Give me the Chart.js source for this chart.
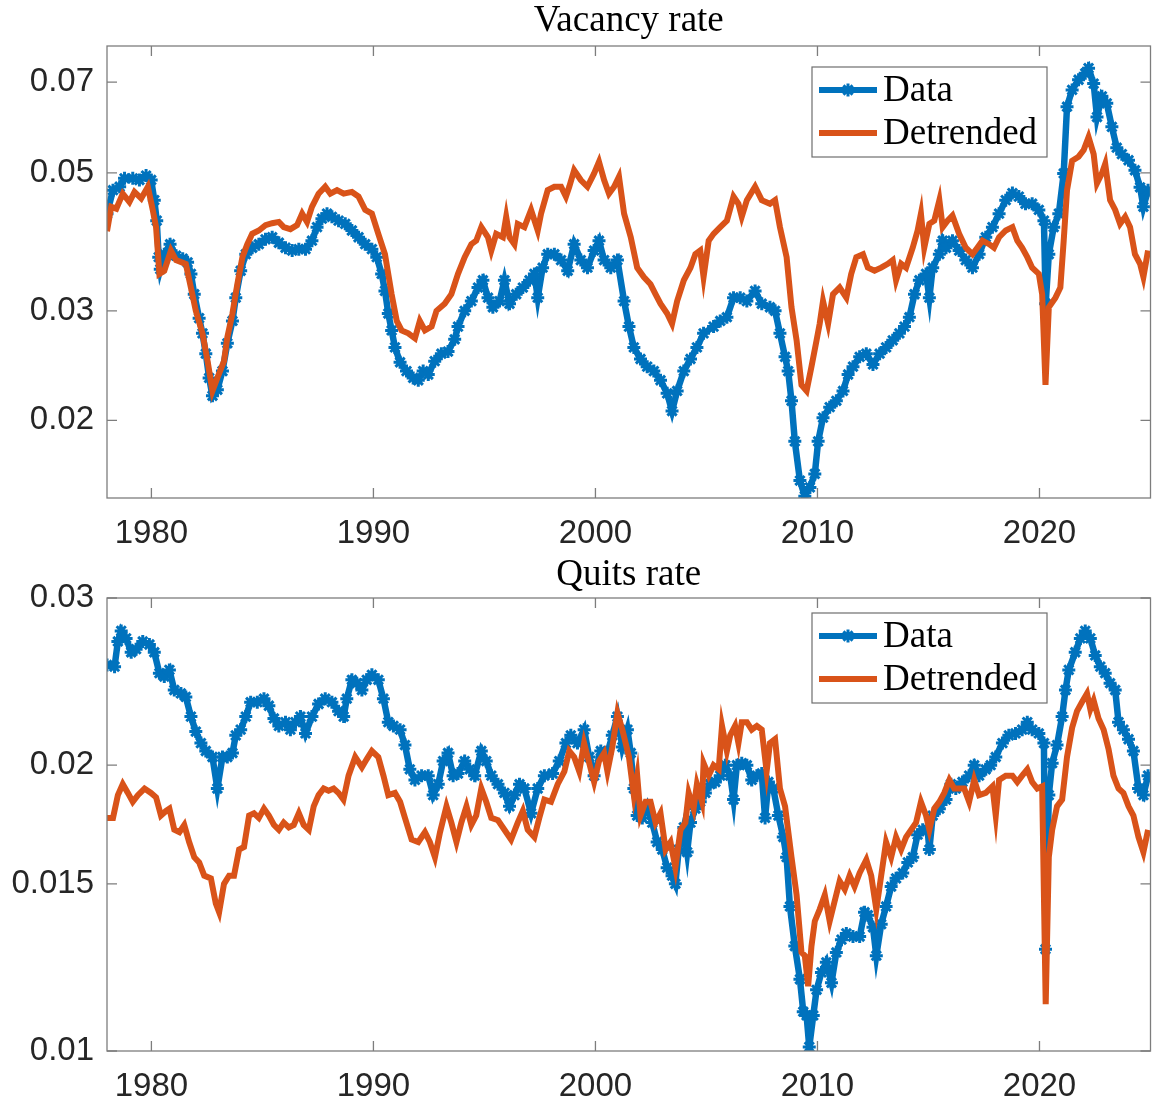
<!DOCTYPE html>
<html>
<head>
<meta charset="utf-8">
<script src="https://cdn.jsdelivr.net/npm/chart.js@4.4.1/dist/chart.umd.min.js"></script>
<style>
html, body { margin: 0; padding: 0; background: #fff; overflow: hidden; }
canvas { position: absolute; left: 0; }
</style>
</head>
<body>
<canvas id="vacChart" width="1160" height="552" style="top:0"></canvas>
<canvas id="quitChart" width="1160" height="552" style="top:552px"></canvas>
<script>
// ---- vacancy rate, raw series ----
const vacDataYears = [
1978.00,1978.27,1978.57,1978.79,1979.16,1979.46,1979.76,1979.99,1980.13,1980.24,
1980.33,1980.40,1980.58,1980.84,1981.11,1981.41,1981.63,1981.78,1981.93,1982.15,
1982.30,1982.45,1982.60,1982.75,1982.97,1983.20,1983.42,1983.65,1983.80,1984.02,
1984.25,1984.54,1984.84,1985.14,1985.44,1985.74,1986.04,1986.34,1986.64,1986.94,
1987.23,1987.46,1987.68,1987.91,1988.13,1988.43,1988.73,1989.03,1989.33,1989.63,
1989.93,1990.15,1990.37,1990.52,1990.67,1990.82,1990.97,1991.20,1991.49,1991.79,
1992.02,1992.24,1992.47,1992.76,1993.06,1993.36,1993.66,1993.81,1994.11,1994.41,
1994.71,1994.93,1995.16,1995.38,1995.68,1995.90,1996.13,1996.43,1996.73,1997.03,
1997.25,1997.40,1997.62,1997.85,1998.15,1998.45,1998.75,1999.04,1999.34,1999.64,
1999.94,2000.16,2000.39,2000.69,2000.99,2001.29,2001.51,2001.73,2002.03,2002.33,
2002.63,2002.93,2003.23,2003.45,2003.68,2003.98,2004.28,2004.57,2004.87,2005.32,
2005.62,2005.92,2006.22,2006.52,2006.82,2007.19,2007.49,2007.86,2008.09,2008.31,
2008.54,2008.68,2008.83,2008.98,2009.21,2009.43,2009.66,2009.88,2010.03,2010.25,
2010.55,2010.85,2011.15,2011.38,2011.60,2011.90,2012.20,2012.50,2012.80,2013.09,
2013.39,2013.69,2013.92,2014.14,2014.37,2014.59,2014.89,2015.04,2015.19,2015.49,
2015.64,2015.79,2016.08,2016.38,2016.68,2016.98,2017.28,2017.58,2017.88,2018.18,
2018.48,2018.78,2019.07,2019.37,2019.67,2019.97,2020.20,2020.28,2020.42,2020.64,
2020.87,2021.09,2021.24,2021.47,2021.76,2022.06,2022.21,2022.44,2022.59,2022.81,
2023.03,2023.26,2023.48,2023.71,2024.01,2024.30,2024.53,2024.68,2024.89];
const vacDataRate = [
0.0430,0.0469,0.0475,0.0490,0.0490,0.0487,0.0495,0.0487,0.0452,0.0419,
0.0366,0.0350,0.0370,0.0384,0.0368,0.0364,0.0359,0.0344,0.0319,0.0292,
0.0276,0.0256,0.0234,0.0219,0.0224,0.0240,0.0266,0.0289,0.0315,0.0348,
0.0370,0.0379,0.0384,0.0391,0.0394,0.0386,0.0379,0.0375,0.0377,0.0377,
0.0389,0.0409,0.0422,0.0430,0.0425,0.0419,0.0414,0.0404,0.0394,0.0384,
0.0377,0.0366,0.0344,0.0323,0.0297,0.0279,0.0262,0.0248,0.0240,0.0234,
0.0232,0.0240,0.0237,0.0249,0.0256,0.0258,0.0270,0.0283,0.0300,0.0311,
0.0327,0.0336,0.0315,0.0304,0.0311,0.0336,0.0308,0.0319,0.0327,0.0336,
0.0344,0.0315,0.0352,0.0370,0.0370,0.0362,0.0348,0.0384,0.0362,0.0352,
0.0375,0.0389,0.0362,0.0352,0.0362,0.0311,0.0283,0.0262,0.0251,0.0244,
0.0240,0.0232,0.0221,0.0207,0.0223,0.0240,0.0251,0.0262,0.0276,0.0283,
0.0289,0.0293,0.0315,0.0315,0.0311,0.0323,0.0308,0.0304,0.0300,0.0276,
0.0253,0.0240,0.0215,0.0185,0.0160,0.0151,0.0156,0.0164,0.0185,0.0202,
0.0210,0.0215,0.0223,0.0237,0.0244,0.0253,0.0256,0.0246,0.0256,0.0262,
0.0269,0.0276,0.0283,0.0293,0.0319,0.0336,0.0344,0.0315,0.0352,0.0370,
0.0389,0.0379,0.0389,0.0375,0.0362,0.0352,0.0370,0.0394,0.0409,0.0430,
0.0452,0.0464,0.0458,0.0446,0.0446,0.0436,0.0419,0.0308,0.0370,0.0409,
0.0430,0.0499,0.0639,0.0680,0.0706,0.0723,0.0737,0.0696,0.0615,0.0664,
0.0647,0.0593,0.0549,0.0536,0.0524,0.0505,0.0474,0.0441,0.0469];

// ---- vacancy rate, detrended ----
const vacTrendYears = [
1978.00,1978.19,1978.42,1978.71,1979.01,1979.24,1979.54,1979.84,1980.06,1980.21,
1980.36,1980.58,1980.88,1981.11,1981.55,1981.78,1982.00,1982.30,1982.53,1982.75,
1982.97,1983.27,1983.42,1983.65,1983.87,1984.10,1984.32,1984.54,1984.84,1985.14,
1985.44,1985.74,1985.96,1986.26,1986.56,1986.79,1987.01,1987.23,1987.53,1987.83,
1988.06,1988.36,1988.66,1989.03,1989.33,1989.63,1989.93,1990.22,1990.52,1990.82,
1991.05,1991.27,1991.57,1991.87,1992.09,1992.32,1992.62,1992.84,1993.21,1993.51,
1993.81,1994.11,1994.41,1994.63,1994.86,1995.16,1995.31,1995.53,1995.83,1995.98,
1996.13,1996.35,1996.50,1996.80,1997.10,1997.40,1997.55,1997.85,1998.15,1998.45,
1998.67,1998.82,1999.04,1999.34,1999.64,1999.94,2000.16,2000.39,2000.61,2000.84,
2001.06,2001.29,2001.59,2001.88,2002.18,2002.48,2002.71,2002.93,2003.23,2003.45,
2003.68,2003.98,2004.28,2004.50,2004.72,2004.87,2005.10,2005.32,2005.62,2005.92,
2006.22,2006.44,2006.59,2006.82,2007.19,2007.49,2007.86,2008.09,2008.31,2008.61,
2008.83,2009.06,2009.28,2009.51,2009.73,2009.96,2010.10,2010.25,2010.48,2010.70,
2011.00,2011.30,2011.52,2011.75,2012.05,2012.27,2012.57,2012.87,2013.17,2013.39,
2013.54,2013.77,2013.99,2014.29,2014.51,2014.66,2014.81,2015.04,2015.26,2015.49,
2015.64,2015.86,2016.08,2016.38,2016.68,2016.98,2017.20,2017.43,2017.73,2017.95,
2018.18,2018.48,2018.78,2019.00,2019.22,2019.45,2019.67,2019.97,2020.12,2020.27,
2020.42,2020.72,2020.94,2021.09,2021.24,2021.47,2021.76,2021.99,2022.21,2022.44,
2022.59,2022.81,2022.96,2023.18,2023.41,2023.63,2023.86,2024.08,2024.30,2024.53,
2024.68,2024.89];
const vacTrendRate = [
0.0403,0.0441,0.0438,0.0463,0.0449,0.0466,0.0455,0.0475,0.0436,0.0409,
0.0344,0.0348,0.0375,0.0362,0.0357,0.0327,0.0300,0.0276,0.0249,0.0223,
0.0234,0.0249,0.0272,0.0297,0.0331,0.0366,0.0384,0.0399,0.0404,0.0412,
0.0415,0.0417,0.0409,0.0406,0.0412,0.0430,0.0417,0.0441,0.0463,0.0475,
0.0463,0.0469,0.0463,0.0466,0.0458,0.0436,0.0430,0.0399,0.0370,0.0319,
0.0289,0.0279,0.0276,0.0271,0.0289,0.0279,0.0283,0.0300,0.0308,0.0319,
0.0344,0.0366,0.0384,0.0389,0.0409,0.0394,0.0375,0.0399,0.0394,0.0425,
0.0394,0.0384,0.0414,0.0409,0.0436,0.0404,0.0430,0.0469,0.0475,0.0475,
0.0458,0.0475,0.0505,0.0487,0.0475,0.0499,0.0521,0.0487,0.0463,0.0475,
0.0493,0.0430,0.0394,0.0352,0.0340,0.0331,0.0319,0.0308,0.0297,0.0286,
0.0311,0.0336,0.0352,0.0370,0.0375,0.0340,0.0389,0.0399,0.0409,0.0419,
0.0458,0.0446,0.0425,0.0452,0.0475,0.0452,0.0446,0.0452,0.0409,0.0366,
0.0304,0.0269,0.0228,0.0223,0.0244,0.0269,0.0286,0.0311,0.0286,0.0319,
0.0327,0.0315,0.0344,0.0366,0.0370,0.0352,0.0348,0.0352,0.0357,0.0362,
0.0336,0.0357,0.0352,0.0379,0.0404,0.0430,0.0379,0.0414,0.0419,0.0452,
0.0409,0.0419,0.0427,0.0399,0.0379,0.0370,0.0379,0.0389,0.0384,0.0379,
0.0394,0.0404,0.0409,0.0389,0.0379,0.0366,0.0352,0.0344,0.0319,0.0228,
0.0304,0.0315,0.0327,0.0389,0.0469,0.0523,0.0531,0.0544,0.0571,0.0536,
0.0481,0.0499,0.0517,0.0452,0.0436,0.0414,0.0425,0.0409,0.0370,0.0357,
0.0340,0.0375];

// ---- quits rate, raw series ----
const quitDataYears = [
1978.00,1978.34,1978.49,1978.64,1978.86,1979.09,1979.31,1979.61,1979.91,1980.13,
1980.36,1980.58,1980.81,1981.03,1981.33,1981.55,1981.78,1982.00,1982.23,1982.45,
1982.75,1982.97,1983.20,1983.42,1983.65,1983.80,1984.02,1984.25,1984.47,1984.77,
1985.07,1985.29,1985.52,1985.74,1986.04,1986.26,1986.49,1986.71,1986.94,1987.23,
1987.53,1987.83,1988.13,1988.43,1988.66,1988.80,1989.03,1989.25,1989.48,1989.70,
1989.93,1990.22,1990.45,1990.67,1990.90,1991.20,1991.42,1991.64,1991.87,1992.17,
1992.47,1992.69,1992.92,1993.14,1993.36,1993.59,1993.81,1994.11,1994.34,1994.56,
1994.86,1995.08,1995.31,1995.61,1995.90,1996.13,1996.35,1996.58,1996.80,1997.10,
1997.40,1997.70,1998.07,1998.37,1998.67,1998.89,1999.19,1999.49,1999.72,1999.94,
2000.24,2000.54,2000.76,2000.99,2001.21,2001.44,2001.59,2001.73,2001.88,2002.11,
2002.33,2002.56,2002.78,2003.01,2003.23,2003.45,2003.60,2003.75,2003.98,2004.13,
2004.28,2004.50,2004.72,2004.95,2005.17,2005.40,2005.62,2005.85,2006.07,2006.22,
2006.37,2006.59,2006.82,2007.04,2007.27,2007.49,2007.64,2007.79,2008.01,2008.24,
2008.46,2008.61,2008.76,2008.98,2009.21,2009.36,2009.51,2009.63,2009.81,2009.96,
2010.18,2010.40,2010.63,2010.85,2011.08,2011.30,2011.60,2011.90,2012.12,2012.27,
2012.50,2012.65,2012.87,2013.09,2013.32,2013.54,2013.84,2014.07,2014.29,2014.51,
2014.74,2014.96,2015.04,2015.19,2015.49,2015.79,2016.01,2016.23,2016.53,2016.83,
2017.06,2017.28,2017.58,2017.80,2018.03,2018.33,2018.62,2018.92,2019.22,2019.45,
2019.67,2019.97,2020.20,2020.27,2020.42,2020.57,2020.79,2021.02,2021.17,2021.32,
2021.61,2021.84,2022.06,2022.29,2022.51,2022.74,2022.96,2023.18,2023.41,2023.56,
2023.78,2024.01,2024.23,2024.46,2024.68,2024.89];
const quitDataRate = [
0.0255,0.0254,0.0270,0.0277,0.0272,0.0263,0.0265,0.0270,0.0268,0.0263,
0.0250,0.0248,0.0252,0.0240,0.0238,0.0236,0.0225,0.0217,0.0211,0.0207,
0.0204,0.0189,0.0204,0.0204,0.0206,0.0215,0.0218,0.0225,0.0233,0.0233,
0.0235,0.0231,0.0224,0.0220,0.0222,0.0218,0.0222,0.0225,0.0216,0.0225,
0.0232,0.0235,0.0233,0.0228,0.0225,0.0235,0.0246,0.0244,0.0240,0.0246,
0.0249,0.0246,0.0235,0.0222,0.0220,0.0218,0.0210,0.0198,0.0193,0.0195,
0.0195,0.0186,0.0191,0.0202,0.0206,0.0195,0.0196,0.0202,0.0198,0.0195,
0.0207,0.0202,0.0195,0.0191,0.0187,0.0181,0.0186,0.0191,0.0189,0.0178,
0.0189,0.0195,0.0196,0.0202,0.0211,0.0215,0.0211,0.0218,0.0204,0.0195,
0.0207,0.0206,0.0215,0.0225,0.0209,0.0218,0.0206,0.0189,0.0177,0.0176,
0.0181,0.0174,0.0166,0.0163,0.0156,0.0153,0.0150,0.0163,0.0172,0.0162,
0.0174,0.0180,0.0183,0.0187,0.0191,0.0192,0.0195,0.0200,0.0195,0.0184,
0.0200,0.0201,0.0200,0.0193,0.0195,0.0196,0.0176,0.0192,0.0189,0.0177,
0.0168,0.0160,0.0142,0.0129,0.0119,0.0110,0.0109,0.0101,0.0109,0.0116,
0.0121,0.0124,0.0118,0.0127,0.0131,0.0133,0.0132,0.0132,0.0140,0.0139,
0.0135,0.0126,0.0136,0.0142,0.0149,0.0152,0.0154,0.0158,0.0160,0.0169,
0.0171,0.0171,0.0163,0.0177,0.0180,0.0184,0.0191,0.0189,0.0192,0.0195,
0.0200,0.0195,0.0198,0.0200,0.0204,0.0211,0.0215,0.0216,0.0218,0.0222,
0.0218,0.0216,0.0211,0.0128,0.0186,0.0201,0.0210,0.0225,0.0240,0.0252,
0.0263,0.0272,0.0277,0.0272,0.0261,0.0254,0.0250,0.0244,0.0240,0.0222,
0.0218,0.0213,0.0207,0.0189,0.0186,0.0195];

// ---- quits rate, detrended ----
const quitTrendYears = [
1978.00,1978.27,1978.49,1978.71,1978.94,1979.16,1979.39,1979.69,1979.98,1980.21,
1980.43,1980.66,1980.81,1981.03,1981.26,1981.48,1981.70,1981.93,1982.15,1982.38,
1982.68,1982.90,1983.05,1983.27,1983.50,1983.72,1983.95,1984.17,1984.40,1984.62,
1984.84,1985.07,1985.29,1985.52,1985.74,1985.96,1986.19,1986.41,1986.64,1986.86,
1987.09,1987.31,1987.53,1987.76,1987.98,1988.21,1988.43,1988.65,1988.88,1989.18,
1989.48,1989.70,1989.93,1990.22,1990.45,1990.67,1990.97,1991.20,1991.42,1991.72,
1992.02,1992.32,1992.54,1992.77,1993.00,1993.29,1993.51,1993.74,1993.96,1994.19,
1994.41,1994.63,1994.86,1995.08,1995.31,1995.61,1995.90,1996.20,1996.50,1996.73,
1996.95,1997.25,1997.47,1997.70,1998.00,1998.30,1998.60,1998.82,1999.04,1999.27,
1999.49,1999.72,1999.94,2000.16,2000.39,2000.54,2000.76,2000.99,2001.21,2001.36,
2001.51,2001.73,2001.88,2002.03,2002.26,2002.48,2002.71,2002.93,2003.16,2003.38,
2003.60,2003.83,2004.05,2004.20,2004.42,2004.57,2004.80,2004.87,2005.10,2005.32,
2005.55,2005.70,2005.92,2006.07,2006.29,2006.44,2006.59,2006.82,2007.04,2007.27,
2007.49,2007.71,2007.86,2008.09,2008.31,2008.54,2008.83,2009.06,2009.28,2009.43,
2009.58,2009.73,2009.88,2010.10,2010.33,2010.55,2010.78,2011.00,2011.23,2011.45,
2011.67,2011.90,2012.20,2012.42,2012.65,2012.87,2013.09,2013.32,2013.54,2013.77,
2013.99,2014.22,2014.44,2014.66,2014.89,2015.04,2015.26,2015.49,2015.71,2015.94,
2016.16,2016.38,2016.61,2016.83,2017.06,2017.28,2017.58,2017.88,2018.03,2018.18,
2018.48,2018.78,2019.00,2019.22,2019.45,2019.67,2019.90,2020.12,2020.28,2020.42,
2020.57,2020.79,2021.02,2021.24,2021.47,2021.69,2021.91,2022.14,2022.29,2022.44,
2022.66,2022.89,2023.11,2023.33,2023.56,2023.78,2024.01,2024.23,2024.46,2024.68,
2024.89];
const quitTrendRate = [
0.0176,0.0176,0.0186,0.0191,0.0187,0.0183,0.0186,0.0189,0.0187,0.0185,
0.0177,0.0179,0.0180,0.0171,0.0170,0.0173,0.0166,0.0160,0.0158,0.0153,
0.0152,0.0143,0.0140,0.0150,0.0153,0.0153,0.0163,0.0164,0.0177,0.0178,
0.0176,0.0180,0.0177,0.0173,0.0171,0.0174,0.0172,0.0173,0.0178,0.0173,
0.0171,0.0181,0.0186,0.0189,0.0188,0.0189,0.0187,0.0184,0.0195,0.0204,
0.0199,0.0203,0.0207,0.0204,0.0195,0.0186,0.0187,0.0183,0.0176,0.0167,
0.0166,0.0170,0.0166,0.0160,0.0170,0.0181,0.0174,0.0166,0.0174,0.0181,
0.0173,0.0177,0.0189,0.0183,0.0176,0.0175,0.0171,0.0167,0.0174,0.0179,
0.0171,0.0168,0.0176,0.0184,0.0183,0.0191,0.0197,0.0207,0.0204,0.0197,
0.0211,0.0201,0.0192,0.0202,0.0206,0.0197,0.0209,0.0227,0.0218,0.0211,
0.0204,0.0186,0.0195,0.0177,0.0183,0.0183,0.0174,0.0178,0.0163,0.0166,
0.0156,0.0171,0.0174,0.0187,0.0180,0.0191,0.0183,0.0201,0.0195,0.0200,
0.0198,0.0220,0.0207,0.0215,0.0220,0.0211,0.0222,0.0222,0.0218,0.0220,
0.0218,0.0197,0.0211,0.0213,0.0189,0.0181,0.0160,0.0146,0.0127,0.0126,
0.0117,0.0129,0.0137,0.0141,0.0146,0.0137,0.0144,0.0151,0.0148,0.0153,
0.0149,0.0154,0.0159,0.0153,0.0141,0.0153,0.0166,0.0160,0.0168,0.0163,
0.0168,0.0171,0.0174,0.0183,0.0177,0.0171,0.0180,0.0183,0.0187,0.0193,
0.0189,0.0189,0.0189,0.0183,0.0193,0.0186,0.0187,0.0190,0.0177,0.0193,
0.0195,0.0195,0.0192,0.0195,0.0198,0.0192,0.0189,0.0190,0.0112,0.0160,
0.0171,0.0181,0.0184,0.0204,0.0219,0.0228,0.0233,0.0238,0.0229,0.0234,
0.0224,0.0218,0.0208,0.0195,0.0189,0.0187,0.0181,0.0177,0.0168,0.0162,
0.0171];

// axis ticks
const yearTicks = [1980, 1990, 2000, 2010, 2020];
const vacTicks = [0.02, 0.03, 0.05, 0.07];
const quitTicks = [0.01, 0.015, 0.02, 0.03];

const BLUE = "#0072BD";
const ORANGE = "#D95319";
const FRAME = "#7d7d7d";
const TEXT = "#262626";

const toPoints = (xs, ys) => xs.map((x, i) => ({ x: x, y: ys[i] }));

// box with inward ticks on all four sides
const axesFrame = {
  id: "axesFrame",
  afterDatasetsDraw(chart) {
    const { ctx, chartArea: a, scales } = chart;
    const len = 10;
    ctx.save();
    ctx.strokeStyle = FRAME;
    ctx.lineWidth = 1.3;
    ctx.strokeRect(a.left, a.top, a.right - a.left, a.bottom - a.top);
    ctx.beginPath();
    scales.x.ticks.forEach(t => {
      const px = scales.x.getPixelForValue(t.value);
      ctx.moveTo(px, a.bottom); ctx.lineTo(px, a.bottom - len);
      ctx.moveTo(px, a.top); ctx.lineTo(px, a.top + len);
    });
    scales.y.ticks.forEach(t => {
      const py = scales.y.getPixelForValue(t.value);
      ctx.moveTo(a.left, py); ctx.lineTo(a.left + len, py);
      ctx.moveTo(a.right, py); ctx.lineTo(a.right - len, py);
    });
    ctx.stroke();
    ctx.restore();
  }
};

// title above the axes and boxed legend in the upper right
const panelDecor = {
  id: "panelDecor",
  afterDraw(chart, args, opts) {
    const { ctx, chartArea: a } = chart;
    ctx.save();
    ctx.fillStyle = "#000";
    ctx.font = '37px "Liberation Serif"';
    ctx.textAlign = "center";
    ctx.textBaseline = "alphabetic";
    ctx.fillText(opts.title, (a.left + a.right) / 2, opts.titleBase);

    const bx = 812, by = opts.legendTop, bw = 235, bh = 90;
    ctx.fillStyle = "#fff";
    ctx.fillRect(bx, by, bw, bh);
    ctx.strokeStyle = "#6e6e6e";
    ctx.lineWidth = 1.2;
    ctx.strokeRect(bx, by, bw, bh);

    chart.data.datasets.forEach((ds, i) => {
      const y = by + 23 + i * 43;
      ctx.strokeStyle = ds.borderColor;
      ctx.lineWidth = Math.min(ds.borderWidth, 6);
      ctx.beginPath();
      ctx.moveTo(819, y);
      ctx.lineTo(877, y);
      ctx.stroke();
      if (ds.pointRadius > 0) {
        ctx.strokeStyle = ds.pointBorderColor;
        ctx.fillStyle = ds.pointBorderColor;
        ctx.lineWidth = ds.pointBorderWidth;
        Chart.helpers.drawPoint(ctx, {
          pointStyle: ds.pointStyle, radius: ds.pointRadius,
          rotation: 0, borderWidth: ds.pointBorderWidth
        }, 848, y);
      }
      ctx.fillStyle = "#000";
      ctx.textAlign = "left";
      ctx.fillText(ds.label, 883, y + 11);
    });
    ctx.restore();
  }
};

function makePanel(id, dataYears, dataRate, trendYears, trendRate, yMin, yMax, yTicks, xAxisHeight, decor) {
  return new Chart(document.getElementById(id), {
    type: "line",
    data: {
      datasets: [
        {
          label: "Data",
          data: toPoints(dataYears, dataRate),
          borderColor: BLUE,
          backgroundColor: BLUE,
          borderWidth: 6.5,
          pointStyle: "star",
          pointRadius: 6.5,
          pointBorderWidth: 3,
          pointBorderColor: BLUE,
          pointBackgroundColor: BLUE,
          tension: 0,
          order: 1
        },
        {
          label: "Detrended",
          data: toPoints(trendYears, trendRate),
          borderColor: ORANGE,
          backgroundColor: ORANGE,
          borderWidth: 6,
          pointRadius: 0,
          tension: 0,
          order: 0
        }
      ]
    },
    options: {
      responsive: false,
      animation: false,
      devicePixelRatio: 1,
      layout: { padding: { top: 46, right: 5, bottom: 0, left: 0 } },
      scales: {
        x: {
          type: "linear",
          min: 1978,
          max: 2025,
          afterBuildTicks: s => { s.ticks = yearTicks.map(v => ({ value: v })); },
          afterFit: s => { s.height = xAxisHeight; },
          ticks: {
            callback: v => String(v),
            font: { family: "Liberation Sans", size: 33 },
            color: TEXT,
            padding: 16,
            maxRotation: 0,
            autoSkip: false
          },
          grid: { display: false, drawTicks: false },
          border: { display: false }
        },
        y: {
          type: "logarithmic",
          min: yMin,
          max: yMax,
          afterBuildTicks: s => { s.ticks = yTicks.map(v => ({ value: v })); },
          afterFit: s => { s.width = 107; },
          ticks: {
            callback: v => String(v),
            font: { family: "Liberation Sans", size: 33 },
            color: TEXT,
            padding: 13,
            autoSkip: false
          },
          grid: { display: false, drawTicks: false },
          border: { display: false }
        }
      },
      plugins: {
        legend: { display: false },
        tooltip: { enabled: false },
        panelDecor: decor
      }
    },
    plugins: [axesFrame, panelDecor]
  });
}

makePanel("vacChart", vacDataYears, vacDataRate, vacTrendYears, vacTrendRate,
  0.015, 0.08, vacTicks, 54, { title: "Vacancy rate", titleBase: 31, legendTop: 67 });
makePanel("quitChart", quitDataYears, quitDataRate, quitTrendYears, quitTrendRate,
  0.01, 0.03, quitTicks, 53, { title: "Quits rate", titleBase: 33, legendTop: 61 });
</script>
</body>
</html>
